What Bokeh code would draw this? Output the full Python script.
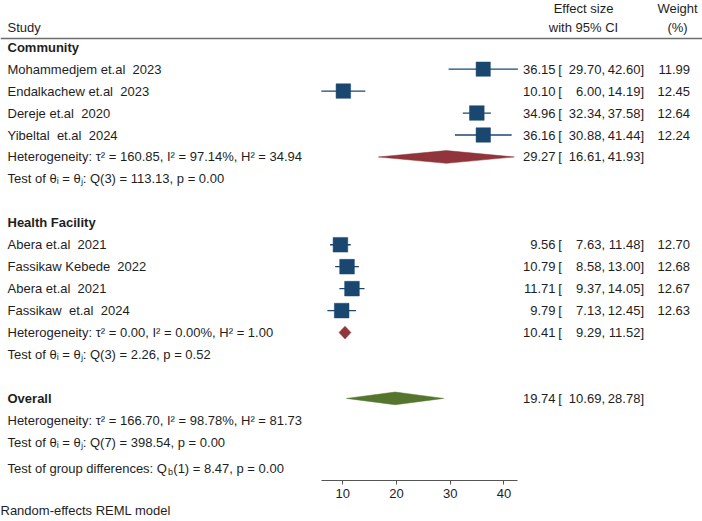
from bokeh.plotting import figure
from bokeh.models import Range1d, LinearAxis, FixedTicker, Title, ColumnDataSource
from bokeh.embed import file_html
from bokeh.resources import INLINE
from bokeh.core.properties import value

# ---------------- data ----------------
groups = ["Community", "Health Facility"]
studies = ["Mohammedjem et.al  2023", "Endalkachew et.al  2023", "Dereje et.al  2020",
           "Yibeltal  et.al  2024", "Abera et.al  2021", "Fassikaw Kebede  2022",
           "Abera et.al  2021", "Fassikaw  et.al  2024"]
study_group = [0, 0, 0, 0, 1, 1, 1, 1]
est = [36.15, 10.10, 34.96, 36.16, 9.56, 10.79, 11.71, 9.79]
lo = [29.70, 6.00, 32.34, 30.88, 7.63, 8.58, 9.37, 7.13]
hi = [42.60, 14.19, 37.58, 41.44, 11.48, 13.00, 14.05, 12.45]
weights = [11.99, 12.45, 12.64, 12.24, 12.70, 12.68, 12.67, 12.63]
sub_est = [29.27, 10.41]
sub_lo = [16.61, 9.29]
sub_hi = [41.93, 11.52]
overall = [19.74, 10.69, 28.78]
het_texts = ["Heterogeneity: τ² = 160.85, I² = 97.14%, H² = 34.94",
             "Heterogeneity: τ² = 0.00, I² = 0.00%, H² = 1.00",
             "Heterogeneity: τ² = 166.70, I² = 98.78%, H² = 81.73"]
test_texts = ["Test of θᵢ = θⱼ: Q(3) = 113.13, p = 0.00",
              "Test of θᵢ = θⱼ: Q(3) = 2.26, p = 0.52",
              "Test of θᵢ = θⱼ: Q(7) = 398.54, p = 0.00"]
group_diff = ["Test of group differences: Q", "b", "(1) = 8.47, p = 0.00"]
x_ticks = [10, 20, 30, 40]

# keep double spaces visible in SVG text
studies_shown = [s.replace("  ", " \u00a0") for s in studies]

# ---------------- layout helpers ----------------
W = 702
FRAME_H = 480
ROW0 = 46.7      # px of first row centre
STEP = 21.95     # px per row
def py(px):
    return (px - ROW0) / STEP

FONT = value("Liberation Sans")
TXT = "#1e1e1e"
NAVY = "#1a476f"
RED = "#90353b"
GREEN = "#55752f"

# value -> pixel: x(10)=342.3, 5.37 px per unit
X10, PXU = 342.3, 5.37
xr = Range1d(10 - X10 / PXU, 10 + (W - X10) / PXU)
yr = Range1d(py(FRAME_H), py(0))

p = figure(frame_width=W, frame_height=FRAME_H, x_range=xr, y_range=yr,
           output_backend="svg", toolbar_location=None, min_border=0,
           x_axis_location=None, y_axis_location=None)
p.extra_x_ranges = {"px": Range1d(0, W)}
p.outline_line_color = None
p.background_fill_color = "white"
p.border_fill_color = "white"
p.xgrid.visible = False
p.ygrid.visible = False

# ---------------- row positions ----------------
rows_study = []
rows_group = []
rows_sub = []
rows_test = []
r = 0
for g in range(len(groups)):
    rows_group.append(r)
    r += 1
    for i, sg in enumerate(study_group):
        if sg == g:
            rows_study.append(r)
            r += 1
    rows_sub.append(r)
    r += 1
    rows_test.append(r)
    r += 2
row_overall = r
row_oh = r + 1
row_ot = r + 2
row_gd = r + 3.2

# ---------------- header ----------------
def txt(x, y, t, align="left", size="13px", style="normal", baseline="middle"):
    src = ColumnDataSource(dict(x=x, y=y, t=t))
    p.text(x="x", y="y", text="t", source=src, x_range_name="px",
           text_font=FONT, text_font_size=size, text_font_style=style,
           text_color=TXT, text_align=align, text_baseline=baseline)

txt([7], [py(27)], ["Study"])
txt([583, 583], [py(8), py(27)], ["Effect size", "with 95% CI"], align="center")
txt([677, 677], [py(8), py(27)], ["Weight", "(%)"], align="center")
p.line(x=[0, W], y=[py(38), py(38)], x_range_name="px", line_color="#6e6e6e", line_width=1.6)

# ---------------- left texts ----------------
txt([7] * len(groups) + [7], rows_group + [row_overall], groups + ["Overall"], style="bold")
txt([7] * len(studies), rows_study, studies_shown)
txt([7] * 3, rows_sub + [row_oh], het_texts)
txt([7] * 3, rows_test + [row_ot], test_texts)
txt([7], [row_gd], [group_diff[0]])
txt([167.6], [row_gd + 0.14], [group_diff[1]], size="9px")
txt([172.8], [row_gd], [group_diff[2]])

# ---------------- right texts ----------------
all_est = est + sub_est + [overall[0]]
all_lo = lo + sub_lo + [overall[1]]
all_hi = hi + sub_hi + [overall[2]]
all_rows = rows_study + rows_sub + [row_overall]
n = len(all_rows)
txt([555] * n, all_rows, [f"{v:.2f}" for v in all_est], align="right")
txt([557.8] * n, all_rows, ["["] * n)
txt([604.5] * n, all_rows, [f"{v:.2f}," for v in all_lo], align="right")
txt([643.5] * n, all_rows, [f"{v:.2f}]" for v in all_hi], align="right")
txt([689.5] * len(weights), rows_study, [f"{w:.2f}" for w in weights], align="right")

# ---------------- marks ----------------
p.segment(x0=lo, x1=hi, y0=rows_study, y1=rows_study, line_color=NAVY, line_width=1.3)
sizes = [4.12 * (w ** 0.5) for w in weights]
p.scatter(x=est, y=rows_study, size=sizes, marker="square", fill_color=NAVY,
          line_color=NAVY, line_width=0.5)

HH = 0.29
for e, l, h, rr, c in zip(sub_est + [overall[0]], sub_lo + [overall[1]],
                          sub_hi + [overall[2]], rows_sub + [row_overall],
                          [RED, RED, GREEN]):
    p.patch(x=[l, e, h, e], y=[rr, rr - HH, rr, rr + HH], fill_color=c, line_color=c,
            line_width=0.5)

# ---------------- axis ----------------
ax = LinearAxis(ticker=FixedTicker(ticks=x_ticks),
                bounds=(min(lo), max(hi)),
                axis_line_color="#555555", axis_line_width=1.2,
                major_tick_line_color="#555555", major_tick_in=0, major_tick_out=4,
                minor_tick_line_color=None,
                major_label_text_font="Liberation Sans",
                major_label_text_font_size="13px",
                major_label_text_color=TXT,
                major_label_standoff=4)
p.add_layout(ax, "below")

p.add_layout(Title(text="Random-effects REML model", align="left",
                   text_font="Liberation Sans", text_font_size="13px",
                   text_font_style="normal", text_color=TXT, standoff=0,
                   offset=0), "below")

open("out.html", "w").write(file_html(p, INLINE))
